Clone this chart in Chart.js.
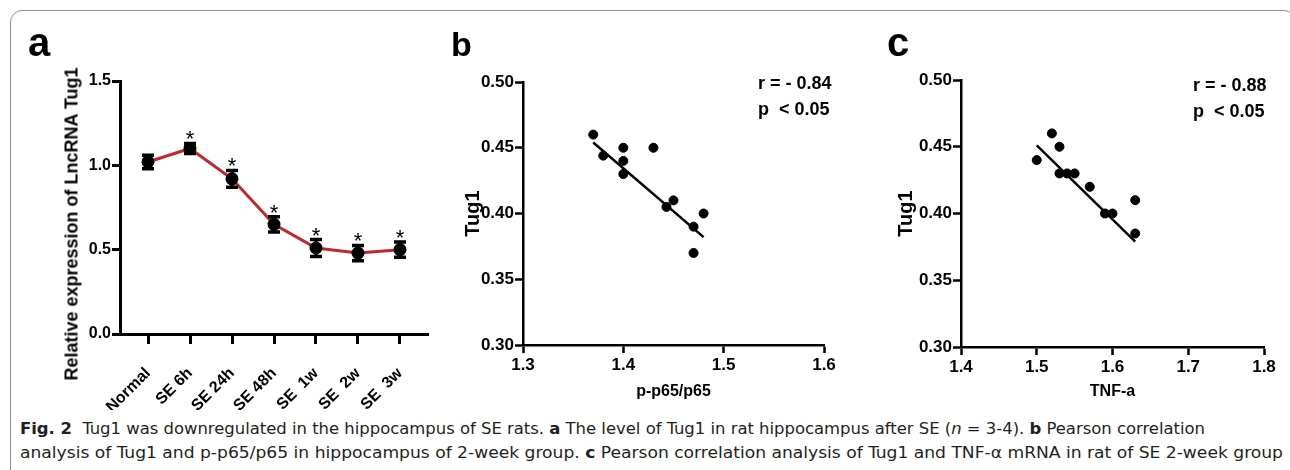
<!DOCTYPE html>
<html>
<head>
<meta charset="utf-8">
<script src="https://cdn.jsdelivr.net/npm/chart.js@4.4.0/dist/chart.umd.min.js"></script>
<style>
  body { margin: 0; width: 1290px; height: 470px; background: #fff; position: relative; overflow: hidden; font-family: 'Liberation Sans', Arial, sans-serif; }
  #frame { position: absolute; left: 10px; top: 10px; width: 1284px; height: 480px; border: 1.5px solid #8c8c8c; border-radius: 12px; }
  canvas { position: absolute; top: 0; }
  .plabel { position: absolute; font-weight: bold; color: #000; line-height: 1; }
  .stat { position: absolute; font: bold 18px 'Liberation Sans', Arial, sans-serif; line-height: 26px; white-space: pre; color: #000; }
  #ytitleA { position: absolute; left: 72px; top: 224px; transform: translate(-50%, -50%) rotate(-90deg); font: bold 18px 'Liberation Sans', Arial, sans-serif; white-space: nowrap; }
  .cap { position: absolute; left: 20px; white-space: pre; font-size: 16px; color: #231f20; transform-origin: 0 0;
         font-family: 'Liberation Sans Narrow', 'DejaVu Sans Condensed', 'Open Sans', sans-serif; }
</style>
</head>
<body>
<div id="frame"></div>
<canvas id="chartA" width="440" height="410" style="left:0"></canvas>
<canvas id="chartB" width="430" height="410" style="left:430px"></canvas>
<canvas id="chartC" width="430" height="410" style="left:860px"></canvas>

<div class="plabel" style="left:28px; top:22px; font-size:40px">a</div>
<div class="plabel" style="left:451px; top:27px; font-size:34px">b</div>
<div class="plabel" style="left:887px; top:22px; font-size:40px">c</div>
<div id="ytitleA">Relative expression of LncRNA Tug1</div>

<div class="stat" style="left:758px; top:70px">r = - 0.84
p  &lt; 0.05</div>
<div class="stat" style="left:1193px; top:72px">r = - 0.88
p  &lt; 0.05</div>

<div class="cap" id="cap1" data-w="1185" style="top:419px"><b>Fig. 2</b>  Tug1 was downregulated in the hippocampus of SE rats. <b>a</b> The level of Tug1 in rat hippocampus after SE (<i>n</i> = 3-4). <b>b</b> Pearson correlation</div>
<div class="cap" id="cap2" data-w="1263" style="top:443px">analysis of Tug1 and p-p65/p65 in hippocampus of 2-week group. <b>c</b> Pearson correlation analysis of Tug1 and TNF-α mRNA in rat of SE 2-week group</div>

<script>
// panel a: Tug1 level over time after SE
const groups = ['Normal', 'SE 6h', 'SE 24h', 'SE 48h', 'SE  1w', 'SE  2w', 'SE  3w'];
const expression = [1.02, 1.10, 0.92, 0.65, 0.51, 0.48, 0.50];
const sem = [0.04, 0.03, 0.05, 0.045, 0.05, 0.045, 0.045];
const stars = ['', '*', '*', '*', '*', '*', '*'];
const ticksA = [0, 0.5, 1.0, 1.5];

// panel b: Tug1 vs p-p65/p65
const p65X = [1.37, 1.38, 1.40, 1.40, 1.40, 1.43, 1.443, 1.45, 1.47, 1.48, 1.47];
const p65Y = [0.46, 0.444, 0.45, 0.44, 0.43, 0.45, 0.405, 0.41, 0.39, 0.40, 0.37];
const p65FitX = [1.37, 1.48];
const p65FitY = [0.454, 0.382];

// panel c: Tug1 vs TNF-a
const tnfX = [1.50, 1.52, 1.53, 1.53, 1.54, 1.55, 1.57, 1.59, 1.60, 1.63, 1.63];
const tnfY = [0.44, 0.46, 0.45, 0.43, 0.43, 0.43, 0.42, 0.40, 0.40, 0.41, 0.385];
const tnfFitX = [1.50, 1.63];
const tnfFitY = [0.451, 0.379];

const FONT = "'Liberation Sans', Arial, sans-serif";

function axis(width, extra) {
  return Object.assign({
    border: { display: true, color: '#000', width: width },
    grid: { display: true, drawOnChartArea: false, drawTicks: true, tickLength: 8, tickWidth: width, tickColor: '#000' },
  }, extra);
}
const fixW = w => s => { s.width = w; s.paddingTop = 0; s.paddingBottom = 0; };
const fixH = h => s => { s.height = h; s.paddingLeft = 0; s.paddingRight = 0; };
const pairs = (xs, ys) => xs.map((x, i) => ({ x: x, y: ys[i] }));

// error bars and significance stars for panel a
const errorBars = {
  id: 'errorBars',
  afterDatasetsDraw(chart) {
    const { ctx, scales: { x, y } } = chart;
    ctx.save();
    ctx.strokeStyle = '#000';
    ctx.fillStyle = '#000';
    ctx.lineWidth = 3.5;
    ctx.font = '22px ' + FONT;
    ctx.textAlign = 'center';
    ctx.textBaseline = 'alphabetic';
    expression.forEach((v, i) => {
      const px = x.getPixelForValue(i);
      const top = y.getPixelForValue(v + sem[i]);
      const bot = y.getPixelForValue(v - sem[i]);
      ctx.beginPath();
      ctx.moveTo(px, top); ctx.lineTo(px, bot);
      ctx.moveTo(px - 6, top); ctx.lineTo(px + 6, top);
      ctx.moveTo(px - 6, bot); ctx.lineTo(px + 6, bot);
      ctx.stroke();
      if (stars[i]) ctx.fillText(stars[i], px, top + 3);
    });
    ctx.restore();
  }
};

Chart.defaults.font.family = FONT;
Chart.defaults.color = '#000';
Chart.defaults.animation = false;
Chart.defaults.plugins.legend.display = false;
Chart.defaults.plugins.tooltip.enabled = false;

new Chart(document.getElementById('chartA'), {
  type: 'line',
  data: {
    datasets: [{
      data: pairs(groups.map((g, i) => i), expression),
      borderColor: '#c1272d',
      borderWidth: 3,
      pointRadius: 5,
      pointBackgroundColor: '#000',
      pointBorderColor: '#000',
      tension: 0,
    }]
  },
  options: {
    responsive: false,
    layout: { padding: { left: 58, top: 81, right: 12, bottom: 0 } },
    scales: {
      x: axis(3, {
        type: 'linear', min: -0.667, max: 6.667,
        grid: { display: true, drawOnChartArea: false, drawTicks: true, tickLength: 10, tickWidth: 3, tickColor: '#000' },
        afterBuildTicks: s => { s.ticks = groups.map((g, i) => ({ value: i })); },
        ticks: { font: { size: 16, weight: 'bold' }, minRotation: 45, maxRotation: 45, padding: 20,
                 callback: v => groups[v] },
        afterFit: fixH(76),
      }),
      y: axis(3, {
        min: 0, max: 1.5,
        afterBuildTicks: s => { s.ticks = ticksA.map(v => ({ value: v })); },
        ticks: { font: { size: 16, weight: 'bold' }, padding: 1, callback: v => v.toFixed(1) },
        afterFit: fixW(62),
      }),
    }
  },
  plugins: [errorBars]
});

function scatterChart(id, xs, ys, fx, fy, xmin, xmax, xtitle, padL, yW, padR, padT, xH) {
  return new Chart(document.getElementById(id), {
    type: 'scatter',
    data: {
      datasets: [
        { data: pairs(xs, ys), pointRadius: 4.5, pointBackgroundColor: '#000', pointBorderColor: '#000' },
        { data: pairs(fx, fy), showLine: true, borderColor: '#000', borderWidth: 2.5, pointRadius: 0 },
      ]
    },
    options: {
      responsive: false,
      layout: { padding: { left: padL, top: padT, right: padR, bottom: 0 } },
      scales: {
        x: axis(2.5, {
          min: xmin, max: xmax,
          ticks: { stepSize: 0.1, font: { size: 17, weight: 'bold' }, padding: 2, callback: v => v.toFixed(1) },
          title: { display: true, text: xtitle, font: { size: 16, weight: 'bold' }, padding: { top: 0, bottom: 9 } },
          afterFit: fixH(xH),
        }),
        y: axis(2.5, {
          min: 0.30, max: 0.50,
          ticks: { stepSize: 0.05, font: { size: 17, weight: 'bold' }, padding: 1, callback: v => v.toFixed(2) },
          title: { display: true, text: 'Tug1', font: { size: 20, weight: 'bold' }, padding: 4 },
          afterFit: fixW(yW),
        }),
      }
    }
  });
}

scatterChart('chartB', p65X, p65Y, p65FitX, p65FitY, 1.3, 1.6, 'p-p65/p65', 27, 66, 36, 82, 65);
scatterChart('chartC', tnfX, tnfY, tnfFitX, tnfFitY, 1.4, 1.8, 'TNF-a', 30, 71, 26, 80, 63);

// squeeze caption lines to the printed width
document.querySelectorAll('.cap').forEach(el => {
  const w = el.getBoundingClientRect().width;
  el.style.transform = 'scaleX(' + (Number(el.dataset.w) / w) + ')';
});
</script>
</body>
</html>
